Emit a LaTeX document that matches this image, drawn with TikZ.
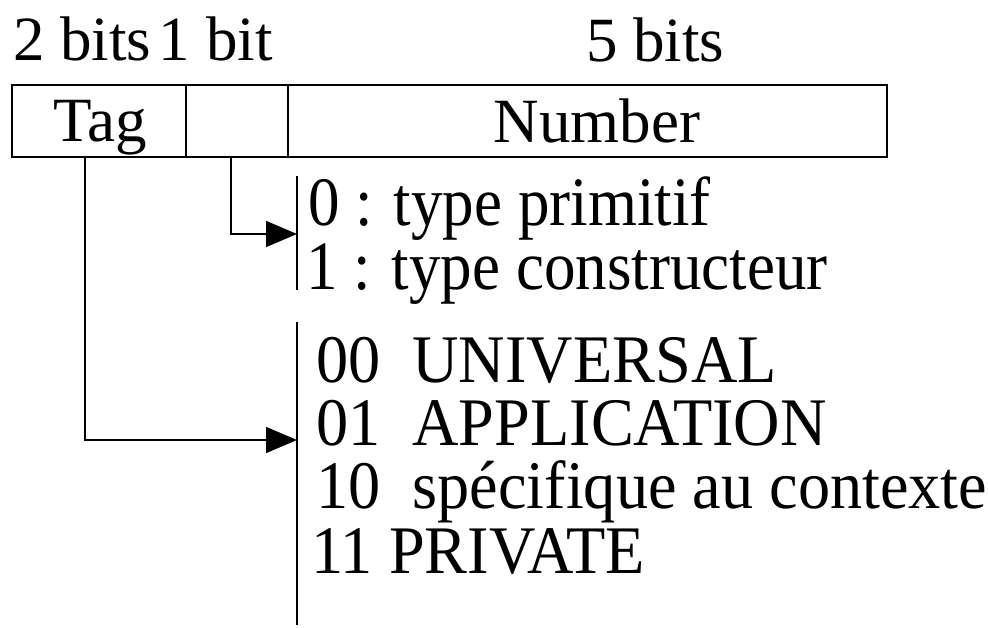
\documentclass[tikz,border=0pt]{standalone}
\usepackage{graphicx}
\usepackage{fontspec}
\setmainfont{Liberation Serif}
\usetikzlibrary{arrows.meta}
\newcommand{\tallA}[1]{\scalebox{1.0}[1.1]{#1}}
\newcommand{\tallB}[1]{\scalebox{1.02}[1.08]{#1}}
\begin{document}
\begin{tikzpicture}[x=1pt,y=-1pt,
  ln/.style={line width=1.6pt},
  arr/.style={line width=1.6pt,-{Triangle[length=31pt,width=26pt]}},
  cell/.style={draw,line width=1.6pt,rectangle,inner sep=0pt,anchor=north west},
  lbl/.style={inner sep=0pt,anchor=base west,font=\fontsize{63}{64}\selectfont},
  lblc/.style={inner sep=0pt,anchor=base,font=\fontsize{63}{64}\selectfont}]
\useasboundingbox (0,0) rectangle (988,628);
% cells
\node[cell,minimum width=174pt,minimum height=72pt] (tagcell) at (11,84) {};
\node[cell,minimum width=102pt,minimum height=72pt] (bitcell) at (185,84) {};
\node[cell,minimum width=599pt,minimum height=72pt] (numcell) at (287,84) {};
% header labels
\node[lbl] (h1) at (13,61) {2 bits\hspace{0.12em}1 bit};
\node[lbl] (h2) at (586,62) {5 bits};
\node[lblc] (tag) at (100,142) {Tag};
\node[lblc] (num) at (597,143) {Number};
% bars
\coordinate (b1top) at (297,176);
\coordinate (b1bot) at (297,290);
\coordinate (b2top) at (297,322);
\coordinate (b2bot) at (297,625);
\draw[ln] (b1top) -- (b1bot);
\draw[ln] (b2top) -- (b2bot);
% texts
\node[lbl] (p0) at (308,226) {\tallA{0 : type primitif}};
\node[lbl] (p1) at (306,290) {\tallA{1 : type constructeur}};
\node[lbl] (u0) at (316,382) {\tallB{00\ \ UNIVERSAL}};
\node[lbl] (u1) at (316,445) {\tallB{01\ \ APPLICATION}};
\node[lbl] (u2) at (316,508) {\tallB{10\ \ spécifique au contexte}};
\node[lbl] (u3) at (311,573) {\tallB{11 PRIVATE}};
% connectors
\coordinate (bitout) at (231,157);
\coordinate (bitin) at (297,234);
\coordinate (tagout) at (85,157);
\coordinate (tagin) at (297,440);
\draw[arr] (bitout) |- (bitin);
\draw[arr] (tagout) |- (tagin);
\end{tikzpicture}
\end{document}
